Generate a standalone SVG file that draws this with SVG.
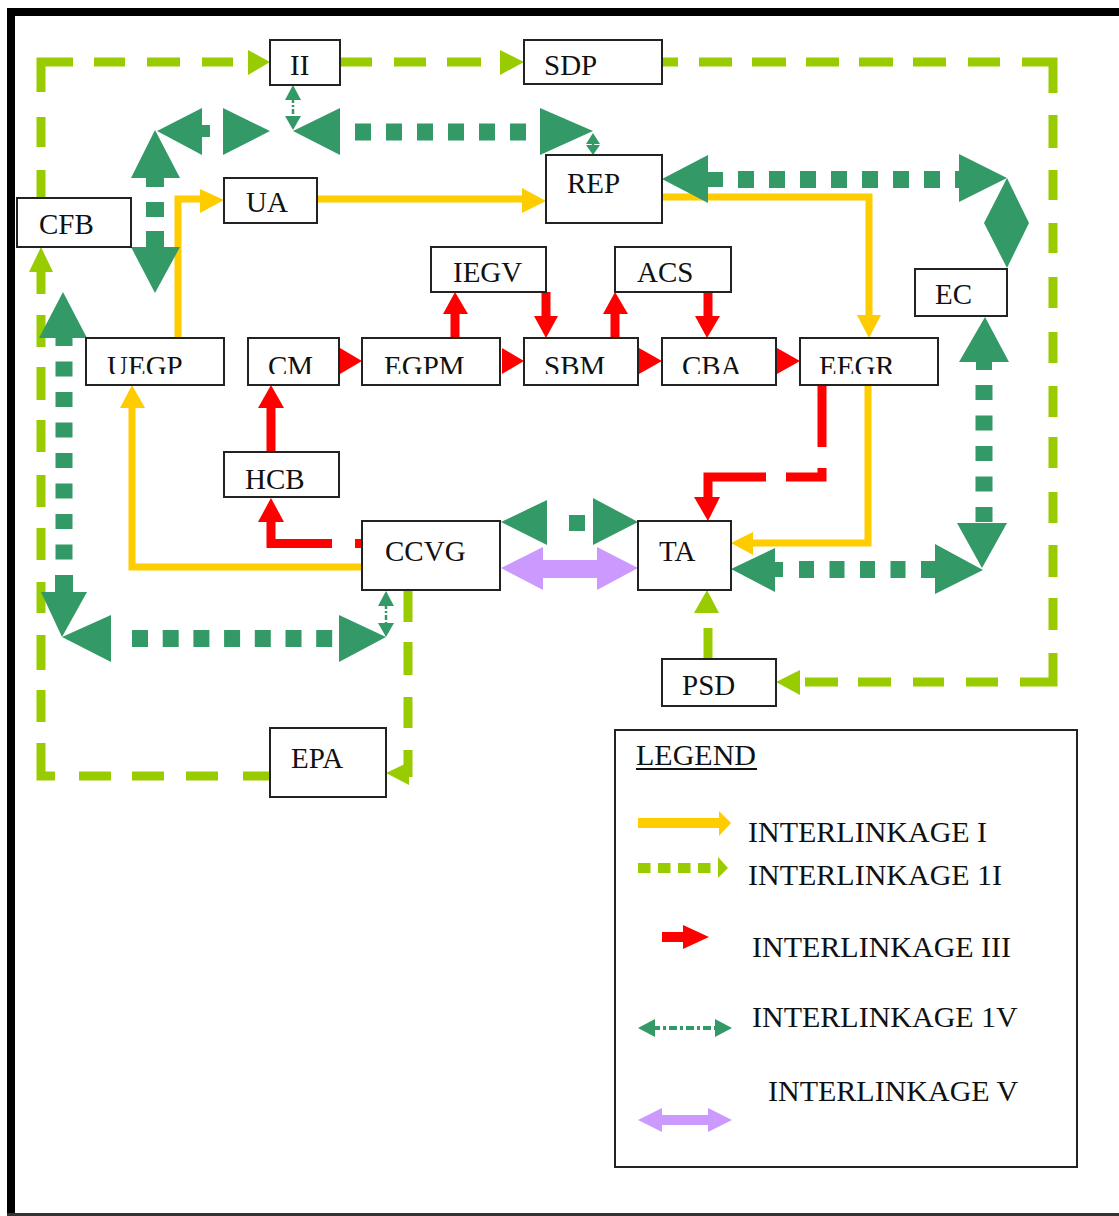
<svg xmlns="http://www.w3.org/2000/svg" width="1119" height="1216" viewBox="0 0 1119 1216">
<defs>
<style>
.box{fill:#fff;stroke:#222;stroke-width:2}
.t{font-family:"Liberation Serif","Times New Roman",serif;font-size:29px;fill:#111}
.lt{font-family:"Liberation Serif","Times New Roman",serif;font-size:30px;fill:#111}
.y{fill:none;stroke:#FFCC00;stroke-width:7}
.yf{fill:#FFCC00}
.g2{fill:none;stroke:#99CC00;stroke-width:9}
.g2f{fill:#99CC00}
.r{fill:none;stroke:#FF0000;stroke-width:9}
.rf{fill:#FF0000}
.g4{fill:none;stroke:#339966;stroke-width:17}
.g4t{fill:none;stroke:#339966;stroke-width:2.5;stroke-dasharray:5 2 2 2}
.g4f{fill:#339966}
.pf{fill:#CC99FF}
</style>
<clipPath id="rowclip"><rect x="0" y="0" width="1119" height="374"/></clipPath>
</defs>
<rect width="1119" height="1216" fill="#fff"/>
<g id="frame">
<rect x="7" y="8" width="1112" height="8" fill="#000"/>
<rect x="7" y="8" width="8" height="1208" fill="#000"/>
<rect x="7" y="1213" width="1112" height="3" fill="#333"/>
</g>

<g id="connectors">
<!-- Interlinkage II (light green dashed) -->
<path class="g2" d="M41,198 V62 H248" stroke-dasharray="28 23 30 25 62 21 31 22 33 22 31 100"/>
<polygon class="g2f" points="248,50 270,62 248,75"/>
<path class="g2" d="M340,62 H500" stroke-dasharray="32 22 32 21 34 100"/>
<polygon class="g2f" points="500,50 524,62 500,75"/>
<path class="g2" d="M662,62 H1053 V682 H800" stroke-dasharray="16 21 33 20 34 20 33 20 34 20 33 22 32 22 62 22 33 22 30 23 30 24 31 24 31 23 31 20 31 24 31 22 32 21 32 23 62 22 32 22 31 22 33 20 33 50"/>
<polygon class="g2f" points="800,670 776,682 800,695"/>
<path class="g2" d="M708,628 V660"/>
<polygon class="g2f" points="694,613 719,613 707,590"/>
<path class="g2" d="M408,590 V777" stroke-dasharray="32 20 33 22 31 22 40"/>
<polygon class="g2f" points="409,762 386,773 409,785"/>
<path class="g2" d="M270,776 H41 V272" stroke-dasharray="27 25 32 22 32 21 32 24 47 21 32 20 35 22 31 22 32 21 32 23 32 20 33 20 32 21 22 50"/>
<polygon class="g2f" points="29,272 41,247 53,272"/>

<!-- Interlinkage I (yellow) -->
<path class="y" d="M178,338 V199 H202"/>
<polygon class="yf" points="200,189 224,200 200,213"/>
<path class="y" d="M317,199 H524"/>
<polygon class="yf" points="522,188 546,201 522,213"/>
<path class="y" d="M662,197 H869 V316"/>
<polygon class="yf" points="857,315 881,315 869,338"/>
<path class="y" d="M868,385 V543 H752"/>
<polygon class="yf" points="753,532 731,543 753,555"/>
<path class="y" d="M362,567 H132 V406"/>
<polygon class="yf" points="120,408 132,385 145,408"/>

<!-- Interlinkage III (red) -->
<polygon class="rf" points="340,348 362,361 340,374"/>
<polygon class="rf" points="502,348 524,361 502,374"/>
<polygon class="rf" points="639,348 662,361 639,374"/>
<polygon class="rf" points="777,348 800,361 777,374"/>
<path class="r" d="M455,338 V313"/>
<polygon class="rf" points="443,314 468,314 455,292"/>
<path class="r" d="M546,292 V317"/>
<polygon class="rf" points="534,316 558,316 546,338"/>
<path class="r" d="M615,338 V313"/>
<polygon class="rf" points="603,314 628,314 615,292"/>
<path class="r" d="M708,292 V317"/>
<polygon class="rf" points="695,316 720,316 707,338"/>
<path class="r" d="M271,452 V406"/>
<polygon class="rf" points="258,408 284,408 271,385"/>
<path class="r" d="M355,543.5 H362"/>
<path class="r" d="M332,543.5 H271 V520"/>
<polygon class="rf" points="258,522 284,522 271,498"/>
<path class="r" d="M822,385 V477 H708 V500" stroke-dasharray="62 21 45 20 200"/>
<polygon class="rf" points="694,497 720,497 708,521"/>

<!-- Interlinkage IV (dark green dotted) -->
<!-- II small link -->
<path class="g4t" d="M293,98 V118"/>
<polygon class="g4f" points="293,85 285,100 301,100"/>
<polygon class="g4f" points="293,130 285,116 301,116"/>
<!-- II - REP -->
<path class="g4" d="M355,132 H538" stroke-dasharray="16 15"/>
<polygon class="g4f" points="293,131 340,108 340,155"/>
<polygon class="g4f" points="540,108 593,131 540,155"/>
<path class="g4t" d="M593,140 V150"/>
<polygon class="g4f" points="593,133 586,144 600,144"/>
<polygon class="g4f" points="593,155 586,145 600,145"/>
<!-- top-left cluster -->
<polygon class="g4f" points="155,130 131,178 180,178"/>
<polygon class="g4f" points="157,131 202,108 202,155"/>
<rect class="g4f" x="202" y="125" width="8" height="12"/>
<polygon class="g4f" points="270,131 223,108 223,155"/>
<rect class="g4f" x="146" y="178" width="18" height="9"/>
<rect class="g4f" x="146" y="202" width="18" height="15"/>
<rect class="g4f" x="146" y="231" width="18" height="17"/>
<polygon class="g4f" points="131,247 180,247 155,293"/>
<!-- left vertical -->
<path class="g4" d="M64,331 V575" stroke-dasharray="15 15.5"/>
<rect class="g4f" x="55" y="575" width="18" height="18"/>
<polygon class="g4f" points="63,292 39,338 87,338"/>
<polygon class="g4f" points="41,592 87,592 62,637"/>
<!-- bottom horizontal -->
<path class="g4" d="M132,638.5 H339" stroke-dasharray="16 14.7"/>
<polygon class="g4f" points="62,637 111,615 111,662"/>
<polygon class="g4f" points="339,615 386,637 339,662"/>
<path class="g4t" d="M386,604 V624"/>
<polygon class="g4f" points="386,591 378,606 394,606"/>
<polygon class="g4f" points="386,637 378,623 394,623"/>
<!-- CCVG - TA -->
<polygon class="g4f" points="501,522 547,500 547,545"/>
<rect class="g4f" x="569" y="515" width="16" height="16"/>
<polygon class="g4f" points="593,498 638,522 593,545"/>
<!-- TA - EC -->
<polygon class="g4f" points="731,569 775,548 775,592"/>
<rect class="g4f" x="775" y="562" width="8" height="15"/>
<path class="g4" d="M799,569.5 H935" stroke-dasharray="15 15.5"/>
<polygon class="g4f" points="935,544 983,570 935,594"/>
<polygon class="g4f" points="985,317 959,362 1009,362"/>
<rect class="g4f" x="976" y="362" width="16" height="8"/>
<path class="g4" d="M984,385 V523" stroke-dasharray="15 15.5"/>
<polygon class="g4f" points="957,523 1007,523 982,568"/>
<!-- REP - EC -->
<polygon class="g4f" points="662,179 708,155 708,203"/>
<rect class="g4f" x="708" y="172" width="15" height="15"/>
<path class="g4" d="M738,179.5 H959" stroke-dasharray="16 15"/>
<polygon class="g4f" points="959,154 1007,178 959,202"/>
<polygon class="g4f" points="1007,178 1029,223 1007,268 984,223"/>

<!-- Interlinkage V (purple) -->
<rect class="pf" x="542" y="560" width="56" height="18"/>
<polygon class="pf" points="501,568 543,547 543,590"/>
<polygon class="pf" points="597,547 638,568 597,590"/>
</g>

<g id="node-II"><rect class="box" x="270" y="40" width="70" height="45"/><text class="t" x="290" y="75">II</text></g>
<g id="node-SDP"><rect class="box" x="524" y="40" width="138" height="44"/><text class="t" x="544" y="75">SDP</text></g>
<g id="node-CFB"><rect class="box" x="17" y="198" width="114" height="49"/><text class="t" x="39" y="234">CFB</text></g>
<g id="node-UA"><rect class="box" x="224" y="178" width="93" height="45"/><text class="t" x="246" y="212">UA</text></g>
<g id="node-REP"><rect class="box" x="546" y="155" width="116" height="68"/><text class="t" x="567" y="193">REP</text></g>
<g id="node-IEGV"><rect class="box" x="431" y="247" width="115" height="45"/><text class="t" x="453" y="282">IEGV</text></g>
<g id="node-ACS"><rect class="box" x="615" y="247" width="116" height="45"/><text class="t" x="637" y="282">ACS</text></g>
<g id="node-EC"><rect class="box" x="915" y="269" width="92" height="47"/><text class="t" x="935" y="304">EC</text></g>
<g id="node-UEGP"><rect class="box" x="86" y="338" width="138" height="47"/><text class="t" x="107" y="376" clip-path="url(#rowclip)">UEGP</text></g>
<g id="node-CM"><rect class="box" x="248" y="338" width="91" height="47"/><text class="t" x="268" y="376" clip-path="url(#rowclip)">CM</text></g>
<g id="node-EGPM"><rect class="box" x="362" y="338" width="138" height="47"/><text class="t" x="384" y="376" clip-path="url(#rowclip)">EGPM</text></g>
<g id="node-SBM"><rect class="box" x="524" y="338" width="114" height="47"/><text class="t" x="544" y="376" clip-path="url(#rowclip)">SBM</text></g>
<g id="node-CBA"><rect class="box" x="662" y="338" width="114" height="47"/><text class="t" x="682" y="376" clip-path="url(#rowclip)">CBA</text></g>
<g id="node-EEGR"><rect class="box" x="800" y="338" width="138" height="47"/><text class="t" x="819" y="376" clip-path="url(#rowclip)">EEGR</text></g>
<g id="node-HCB"><rect class="box" x="224" y="452" width="115" height="45"/><text class="t" x="245" y="489">HCB</text></g>
<g id="node-CCVG"><rect class="box" x="362" y="521" width="138" height="69"/><text class="t" x="385" y="561">CCVG</text></g>
<g id="node-TA"><rect class="box" x="638" y="521" width="93" height="69"/><text class="t" x="659" y="561">TA</text></g>
<g id="node-PSD"><rect class="box" x="662" y="659" width="114" height="47"/><text class="t" x="682" y="695">PSD</text></g>
<g id="node-EPA"><rect class="box" x="270" y="728" width="116" height="69"/><text class="t" x="291" y="768">EPA</text></g>

<g id="legend">
<rect class="box" x="615" y="730" width="462" height="437"/>
<text class="lt" x="636" y="765">LEGEND</text>
<rect x="636" y="768" width="121" height="2" fill="#111"/>
<rect class="yf" x="638" y="818" width="82" height="10"/>
<polygon class="yf" points="719,811 731,823 719,836"/>
<text class="lt" x="748" y="842">INTERLINKAGE I</text>
<path d="M638,868 H712" stroke="#99CC00" stroke-width="10" stroke-dasharray="12.5 7.5" fill="none"/>
<polygon class="g2f" points="718,857 728,868 718,878"/>
<text class="lt" x="748" y="885">INTERLINKAGE 1I</text>
<rect class="rf" x="662" y="932" width="22" height="10"/>
<polygon class="rf" points="683,925 709,937 683,949"/>
<text class="lt" x="752" y="957">INTERLINKAGE III</text>
<path d="M652,1028 H718" stroke="#339966" stroke-width="4" stroke-dasharray="8 3 3 3" fill="none"/>
<polygon class="g4f" points="638,1028 655,1019 655,1037"/>
<polygon class="g4f" points="732,1028 715,1019 715,1037"/>
<text class="lt" x="752" y="1027">INTERLINKAGE 1V</text>
<rect class="pf" x="661" y="1115" width="48" height="10"/>
<polygon class="pf" points="638,1120 662,1108 662,1132"/>
<polygon class="pf" points="732,1120 708,1108 708,1132"/>
<text class="lt" x="768" y="1101">INTERLINKAGE V</text>
</g>
</svg>
